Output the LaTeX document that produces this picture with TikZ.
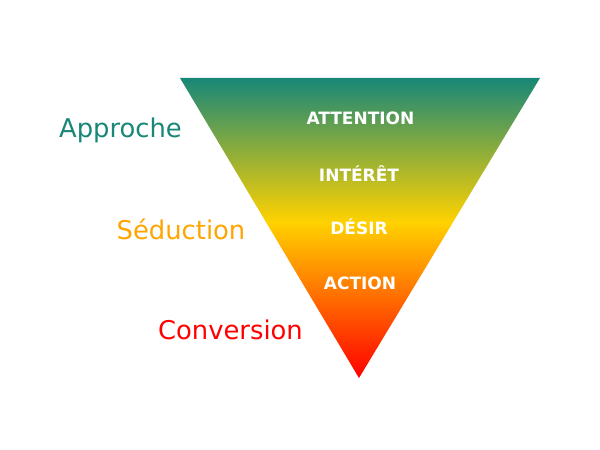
\documentclass[tikz,border=0pt]{standalone}
\usepackage{fontspec}
\setmainfont{DejaVu Sans}
\definecolor{teal0}{RGB}{24,135,120}
\definecolor{yel0}{RGB}{255,210,0}
\definecolor{red0}{RGB}{255,0,0}
\definecolor{orange0}{RGB}{255,165,0}
\pgfdeclareverticalshading{funnelshade}{100bp}{color(0bp)=(red0); color(25bp)=(red0); color(51bp)=(yel0); color(75bp)=(teal0); color(100bp)=(teal0)}
\tikzset{
  stage/.style={font=\fontsize{17}{20}\selectfont\bfseries, text=white, anchor=base, inner sep=0pt},
  side/.style={font=\fontsize{25.8}{30}\selectfont, anchor=base, inner sep=0pt}
}
\begin{document}
\begin{tikzpicture}[x=1pt,y=1pt]
\useasboundingbox (0,0) rectangle (600,450);
\fill[white] (0,0) rectangle (600,450);
\coordinate (tl) at (180,372);
\coordinate (tr) at (540,372);
\coordinate (bt) at (359,72);
\shade[shading=funnelshade] (tl) -- (tr) -- (bt) -- cycle;
\node[stage] (att) at (360.5,325.5) {ATTENTION};
\node[stage] (int) at (359,268.5) {INTÉRÊT};
\node[stage] (des) at (359,215) {DÉSIR};
\node[stage] (act) at (360,160.5) {ACTION};
\node[side, text=teal0] (app) at (120.5,312.5) {Approche};
\node[side, text=orange0] (sed) at (181,210) {Séduction};
\node[side, text=red0] (con) at (230.5,110.5) {Conversion};
\end{tikzpicture}
\end{document}
